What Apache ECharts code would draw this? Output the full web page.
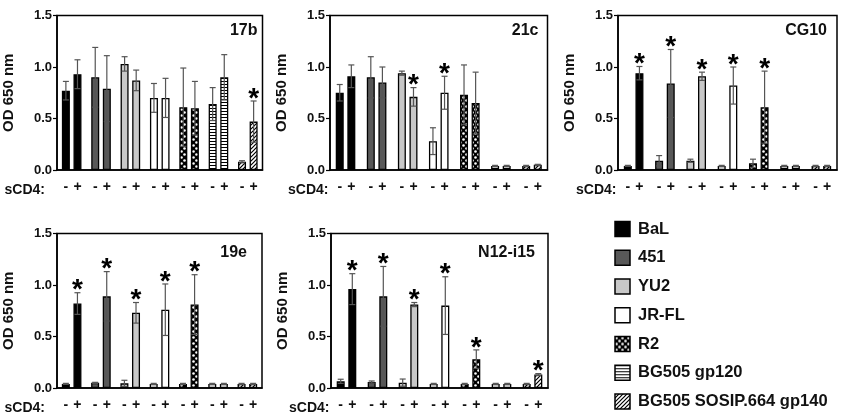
<!DOCTYPE html>
<html><head><meta charset="utf-8">
<script src="https://cdn.jsdelivr.net/npm/echarts@6/dist/echarts.min.js"></script>
<style>html,body{margin:0;padding:0;background:#fff}#c{width:844px;height:412px}</style>
</head><body><div id="c"></div>
<script>
// ---- data ----
const strains = ['BaL','451','YU2','JR-FL','R2','BG505 gp120','BG505 SOSIP.664 gp140'];
const panelNames = ['17b','21c','CG10','19e','N12-i15'];
const sCD4Labels = ['-','+'];
const yAxisName = 'OD 650 nm';

// 17b
const p17b_minus    = [0.77,0.90,1.03,0.70,0.61,0.64,0.08];
const p17b_plus     = [0.93,0.79,0.87,0.70,0.60,0.90,0.47];
const p17b_minusErr = [0.09,0.29,0.07,0.14,0.38,0.16,0.01];
const p17b_plusErr  = [0.14,0.32,0.10,0.19,0.26,0.22,0.20];
const p17b_plusSig  = [0,0,0,0,0,0,1];
// 21c
const p21c_minus    = [0.75,0.90,0.94,0.28,0.73,0.04,0.04];
const p21c_plus     = [0.91,0.85,0.71,0.75,0.65,0.04,0.05];
const p21c_minusErr = [0.08,0.20,0.02,0.13,0.29,0.005,0.005];
const p21c_plusErr  = [0.11,0.15,0.09,0.16,0.30,0.005,0.005];
const p21c_plusSig  = [0,0,1,1,0,0,0];
// CG10
const pCG10_minus    = [0.04,0.09,0.09,0.04,0.065,0.04,0.04];
const pCG10_plus     = [0.94,0.84,0.91,0.82,0.61,0.04,0.04];
const pCG10_minusErr = [0.005,0.05,0.015,0.005,0.04,0.005,0.005];
const pCG10_plusErr  = [0.065,0.33,0.04,0.18,0.35,0.005,0.005];
const pCG10_plusSig  = [1,1,1,1,1,0,0];
// 19e
const p19e_minus    = [0.04,0.05,0.045,0.04,0.04,0.04,0.04];
const p19e_plus     = [0.82,0.89,0.73,0.76,0.81,0.04,0.04];
const p19e_minusErr = [0.005,0.005,0.03,0.005,0.005,0.005,0.005];
const p19e_plusErr  = [0.105,0.24,0.10,0.25,0.29,0.005,0.005];
const p19e_plusSig  = [1,1,1,1,1,0,0];
// N12-i15
const pN12_minus    = [0.065,0.058,0.052,0.04,0.04,0.04,0.04];
const pN12_plus     = [0.96,0.89,0.81,0.80,0.28,0.04,0.13];
const pN12_minusErr = [0.02,0.01,0.035,0.005,0.005,0.005,0.005];
const pN12_plusErr  = [0.15,0.29,0.02,0.28,0.09,0.005,0.01];
const pN12_plusSig  = [1,1,1,1,1,0,1];

const panels = [
  {minus:p17b_minus, plus:p17b_plus, minusErr:p17b_minusErr, plusErr:p17b_plusErr, plusSig:p17b_plusSig},
  {minus:p21c_minus, plus:p21c_plus, minusErr:p21c_minusErr, plusErr:p21c_plusErr, plusSig:p21c_plusSig},
  {minus:pCG10_minus, plus:pCG10_plus, minusErr:pCG10_minusErr, plusErr:pCG10_plusErr, plusSig:pCG10_plusSig},
  {minus:p19e_minus, plus:p19e_plus, minusErr:p19e_minusErr, plusErr:p19e_plusErr, plusSig:p19e_plusSig},
  {minus:pN12_minus, plus:pN12_plus, minusErr:pN12_minusErr, plusErr:pN12_plusErr, plusSig:pN12_plusSig}
];

// ---- layout / style ----
const FONT = "'Liberation Sans', Arial, sans-serif";
const TXT = '#111';
const grids = [
  {left:46.5, top:15.5, width:216, height:154.5, tdx:5, tdy:7},
  {left:330, top:15.5, width:217.5, height:154.5, tdx:9, tdy:7},
  {left:618, top:15.5, width:219, height:154.5, tdx:10, tdy:7},
  {left:46.5, top:233.5, width:215.5, height:154.5, tdx:15, tdy:11},
  {left:331, top:233.5, width:217, height:154.5, tdx:13, tdy:11}
];
const BAR_W = 8, BAR_GAP = 0.45;
const OFF = (BAR_W + BAR_W*BAR_GAP)/2;

function makePattern(kind){
  const c = document.createElement('canvas');
  const x = c.getContext('2d');
  if(kind==='dots'){
    c.width=6;c.height=6;
    x.fillStyle='#000';x.fillRect(0,0,6,6);
    x.fillStyle='#fff';
    x.beginPath();x.arc(1.5,1.5,1.3,0,Math.PI*2);x.fill();
    x.beginPath();x.arc(4.5,4.5,1.3,0,Math.PI*2);x.fill();
  } else if(kind==='hlines'){
    c.width=4;c.height=3;
    x.fillStyle='#fff';x.fillRect(0,0,4,3);
    x.fillStyle='#000';x.fillRect(0,0,4,1);
  } else {
    c.width=4;c.height=4;
    x.fillStyle='#fff';x.fillRect(0,0,4,4);
    x.strokeStyle='#000';x.lineWidth=1.2;
    x.beginPath();
    x.moveTo(0,4);x.lineTo(4,0);
    x.moveTo(-1,1);x.lineTo(1,-1);
    x.moveTo(3,5);x.lineTo(5,3);
    x.stroke();
  }
  return {image:c, repeat:'repeat'};
}
const fills = ['#000','#585858','#c8c8c8','#ffffff',makePattern('dots'),makePattern('hlines'),makePattern('diag')];

const option = {animation:false, backgroundColor:'#fff', grid:[], xAxis:[], yAxis:[], series:[], graphic:[]};

grids.forEach((g,k)=>{
  option.grid.push({left:g.left, top:g.top, width:g.width, height:g.height, show:true, borderColor:'#000', borderWidth:1.5, containLabel:false});
  option.xAxis.push({
    type:'category', gridIndex:k, data:strains,
    axisLine:{lineStyle:{color:'#000', width:1.5}},
    axisTick:{alignWithLabel:true, length:4, lineStyle:{color:'#000', width:1.2}},
    axisLabel:{interval:0, margin:10, color:TXT,
      formatter:()=>'{m|'+sCD4Labels[0]+'}{p|'+sCD4Labels[1]+'}',
      rich:{m:{width:2*OFF, align:'center', fontSize:14, fontWeight:'bold', fontFamily:FONT, color:TXT},
            p:{width:2*OFF, align:'center', fontSize:14, fontWeight:'bold', fontFamily:FONT, color:TXT}}}
  });
  option.yAxis.push({
    type:'value', gridIndex:k, min:0, max:1.5, interval:0.5,
    name:yAxisName, nameLocation:'middle', nameGap:41,
    nameTextStyle:{fontSize:15, fontWeight:'bold', fontFamily:FONT, color:TXT},
    axisLine:{show:true, lineStyle:{color:'#000', width:1.5}},
    axisTick:{show:true, length:4, lineStyle:{color:'#000', width:1.2}},
    splitLine:{show:false},
    axisLabel:{formatter:v=>v.toFixed(1), fontSize:13, fontWeight:'bold', fontFamily:FONT, color:TXT, margin:5}
  });
  const p = panels[k];
  [['minus', p.minus], ['plus', p.plus]].forEach(([nm, vals])=>{
    option.series.push({
      type:'bar', name:nm, xAxisIndex:k, yAxisIndex:k, barWidth:BAR_W, barGap:(BAR_GAP*100)+'%',
      itemStyle:{borderColor:'#000', borderWidth:1.3},
      data: vals.map((v,i)=>({value:v, itemStyle:{color:fills[i]}}))
    });
  });
  const ed = [];
  for(let i=0;i<strains.length;i++){
    ed.push([i, p.minus[i], p.minusErr[i], 0, -1]);
    ed.push([i, p.plus[i], p.plusErr[i], p.plusSig[i], 1]);
  }
  option.series.push({
    type:'custom', xAxisIndex:k, yAxisIndex:k, z:5, data:ed, encode:{x:0, y:1},
    renderItem:(params, api)=>{
      const cat=api.value(0), v=api.value(1), e=api.value(2), s=api.value(3), side=api.value(4);
      const c = api.coord([cat, v]);
      const x = c[0] + side*OFF;
      const yt = api.coord([cat, v+e])[1];
      const yb = api.coord([cat, Math.max(0, v-e)])[1];
      const st = {stroke:'#555', lineWidth:1.2};
      const ch = [
        {type:'line', shape:{x1:x, y1:yt, x2:x, y2:yb}, style:st},
        {type:'line', shape:{x1:x-3, y1:yt, x2:x+3, y2:yt}, style:st},
        {type:'line', shape:{x1:x-3, y1:yb, x2:x+3, y2:yb}, style:st}
      ];
      if(s) ch.push({type:'text', style:{text:'*', x:x, y:yt-2, align:'center', verticalAlign:'middle', font:'bold 28px '+FONT, fill:'#000'}});
      return {type:'group', children:ch};
    }
  });
  option.graphic.push({type:'text', x:g.left+g.width-g.tdx, y:g.top+g.tdy,
    style:{text:panelNames[k], align:'right', verticalAlign:'top', font:'bold 16px '+FONT, fill:TXT}});
  option.graphic.push({type:'text', x:g.left-42, y:g.top+g.height+20,
    style:{text:'sCD4:', align:'left', verticalAlign:'middle', font:'bold 14px '+FONT, fill:TXT}});
});

// legend
strains.forEach((s,i)=>{
  const cy = 229 + i*28.75;
  option.graphic.push({type:'rect', x:615, y:cy-7.5, shape:{x:0,y:0,width:15,height:15},
    style:{fill:fills[i], stroke:'#000', lineWidth:1.5}});
  option.graphic.push({type:'text', x:638, y:cy,
    style:{text:s, align:'left', verticalAlign:'middle', font:'bold 16.5px '+FONT, fill:TXT}});
});

const chart = echarts.init(document.getElementById('c'), null, {renderer:'canvas'});
chart.setOption(option);
</script></body></html>
